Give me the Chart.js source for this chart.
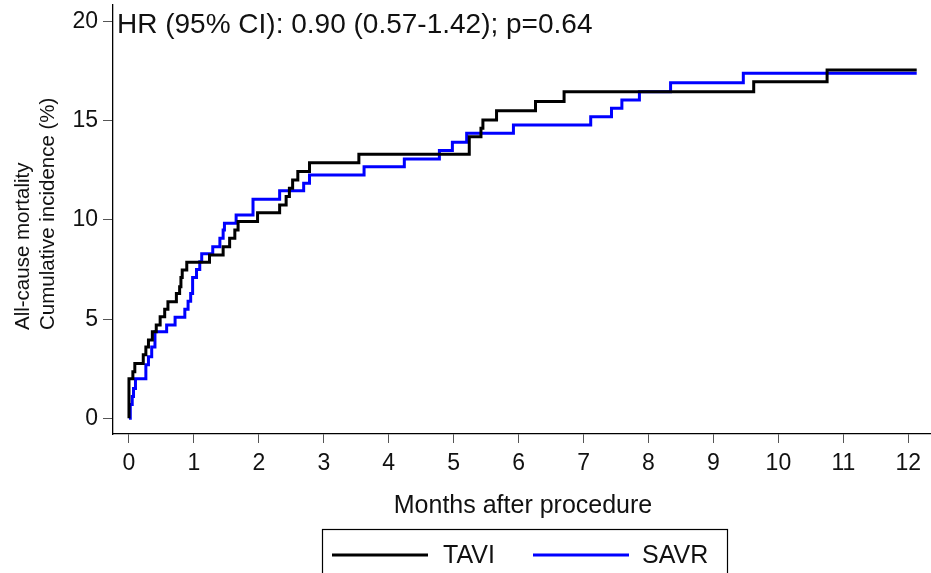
<!DOCTYPE html>
<html lang="es">
<head>
<meta charset="UTF-8">
<title>Mortalidad acumulada TAVI vs SAVR</title>
<script src="https://cdn.jsdelivr.net/npm/chart.js@4.4.1/dist/chart.umd.min.js"></script>
<style>
    body { margin: 0; background: #ffffff; }
    #grafico { display: block; }
</style>
</head>
<body>
<canvas id="grafico" width="931" height="573"></canvas>
<script>
// =========================
// Datos
// =========================
const mesesTAVI = [0, 0, 0.06, 0.09, 0.22, 0.26, 0.30, 0.36, 0.42, 0.48, 0.55, 0.60, 0.73, 0.78, 0.80, 0.82, 0.89,
    1.24, 1.45, 1.55, 1.63, 1.68, 1.98, 2.32, 2.42, 2.47, 2.52, 2.60, 2.78, 3.54, 5.24, 5.42, 5.45, 5.66,
    6.26, 6.70, 9.62, 10.75, 12.13];
const incidenciaTAVI = [0, 2.0, 2.35, 2.77, 3.2, 3.6, 3.95, 4.37, 4.7, 5.12, 5.5, 5.88, 6.3, 6.64, 7.1, 7.48, 7.87,
    8.23, 8.65, 9.08, 9.5, 9.92, 10.36, 10.76, 11.18, 11.6, 12.02, 12.44, 12.89, 13.31, 14.2, 14.62, 15.04, 15.51,
    15.97, 16.47, 16.97, 17.56, 17.56];

const mesesSAVR = [0, 0.02, 0.05, 0.07, 0.10, 0.26, 0.30, 0.35, 0.40, 0.58, 0.71, 0.86, 0.91, 0.95, 0.98, 1.04, 1.09,
    1.12, 1.29, 1.40, 1.45, 1.47, 1.65, 1.91, 2.32, 2.69, 2.78, 3.62, 4.24, 4.78, 4.98, 5.20, 5.92, 7.11,
    7.43, 7.59, 7.86, 8.34, 9.46, 12.13];
const incidenciaSAVR = [0, 0.7, 1.1, 1.5, 2.0, 2.7, 3.1, 3.6, 4.37, 4.7, 5.1, 5.5, 5.9, 6.3, 7.1, 7.5, 7.9,
    8.3, 8.65, 9.08, 9.5, 9.83, 10.25, 11.05, 11.48, 11.85, 12.27, 12.69, 13.08, 13.5, 13.92, 14.37, 14.79, 15.21,
    15.63, 16.05, 16.47, 16.92, 17.4, 17.4];

const ticksX = [0, 1, 2, 3, 4, 5, 6, 7, 8, 9, 10, 11, 12];
const ticksY = [0, 5, 10, 15, 20];

const textoHR = "HR (95% CI): 0.90 (0.57-1.42); p=0.64";
const tituloX = "Months after procedure";
const tituloY = ["All-cause mortality", "Cumulative incidence (%)"];

const fuente = "'Liberation Sans', Arial, Helvetica, sans-serif";

// =========================
// Convertir a puntos {x, y}
// =========================
function armarPuntos(meses, valores) {
    return meses.map((m, i) => ({ x: m, y: valores[i] }));
}

// =========================
// Textos extra y leyenda con marco
// =========================
const pluginTextos = {
    id: 'textos',
    afterDraw(chart) {
        const ctx = chart.ctx;
        const area = chart.chartArea;
        ctx.save();
        ctx.fillStyle = '#111111';

        // HR dentro del área
        ctx.font = '28px ' + fuente;
        ctx.textAlign = 'left';
        ctx.textBaseline = 'alphabetic';
        ctx.fillText(textoHR, area.left + 4, 33);

        // Título eje X
        ctx.font = '25px ' + fuente;
        ctx.textAlign = 'center';
        ctx.fillText(tituloX, 523, 513);

        // Título eje Y (dos líneas, giradas)
        ctx.save();
        ctx.translate(0, 330);
        ctx.rotate(-Math.PI / 2);
        ctx.font = '20.5px ' + fuente;
        ctx.textAlign = 'left';
        ctx.textBaseline = 'middle';
        ctx.fillText(tituloY[0], 0, 23);
        ctx.fillText(tituloY[1], 0, 48);
        ctx.restore();

        // Leyenda
        ctx.strokeStyle = '#000000';
        ctx.lineWidth = 1.2;
        ctx.strokeRect(322.5, 529.5, 405, 60);

        const posiciones = [
            { x1: 332, x2: 428, tx: 443 },
            { x1: 533, x2: 629, tx: 642 }
        ];
        ctx.font = '25px ' + fuente;
        ctx.textAlign = 'left';
        ctx.textBaseline = 'middle';
        chart.data.datasets.forEach((ds, i) => {
            const p = posiciones[i];
            ctx.strokeStyle = ds.borderColor;
            ctx.lineWidth = 3;
            ctx.beginPath();
            ctx.moveTo(p.x1, 555);
            ctx.lineTo(p.x2, 555);
            ctx.stroke();
            ctx.fillStyle = '#111111';
            ctx.fillText(ds.label, p.tx, 556);
        });
        ctx.restore();
    }
};

// =========================
// Quitar el relleno automático de los ejes
// =========================
function fijarEje(scale, tam) {
    if (scale.isHorizontal()) {
        scale.height = tam;
    } else {
        scale.width = tam;
    }
    scale.paddingTop = 0;
    scale.paddingBottom = 0;
    scale.paddingLeft = 0;
    scale.paddingRight = 0;
}

// =========================
// Gráfico
// =========================
const ctx = document.getElementById("grafico").getContext("2d");

new Chart(ctx, {
    type: 'line',
    data: {
        datasets: [
            {
                label: 'TAVI',
                data: armarPuntos(mesesTAVI, incidenciaTAVI),
                borderColor: '#000000',
                borderWidth: 3,
                stepped: true,
                pointRadius: 0,
                fill: false
            },
            {
                label: 'SAVR',
                data: armarPuntos(mesesSAVR, incidenciaSAVR),
                borderColor: '#0000ff',
                borderWidth: 3,
                stepped: true,
                pointRadius: 0,
                fill: false
            }
        ]
    },
    options: {
        responsive: false,
        animation: false,
        devicePixelRatio: 1,
        layout: { padding: { left: 0, right: 0, top: 5, bottom: 0 } },
        plugins: {
            legend: { display: false },
            tooltip: { enabled: false }
        },
        scales: {
            x: {
                type: 'linear',
                min: -0.246,
                max: 12.35,
                afterBuildTicks: (scale) => { scale.ticks = ticksX.map(v => ({ value: v })); },
                afterFit: (scale) => fijarEje(scale, 139),
                grid: { display: true, drawOnChartArea: false, drawTicks: true, tickLength: 9, color: '#555555' },
                border: { display: true, color: '#000000', width: 1.3 },
                ticks: { font: { size: 23, family: fuente }, color: '#111111', padding: 7, maxRotation: 0 }
            },
            y: {
                type: 'linear',
                min: -0.79,
                max: 20.84,
                afterBuildTicks: (scale) => { scale.ticks = ticksY.map(v => ({ value: v })); },
                afterFit: (scale) => fijarEje(scale, 113),
                grid: { display: true, drawOnChartArea: false, drawTicks: true, tickLength: 10, color: '#555555' },
                border: { display: true, color: '#000000', width: 1.3 },
                ticks: { font: { size: 23, family: fuente }, color: '#111111', padding: 5 }
            }
        }
    },
    plugins: [pluginTextos]
});
</script>
</body>
</html>
